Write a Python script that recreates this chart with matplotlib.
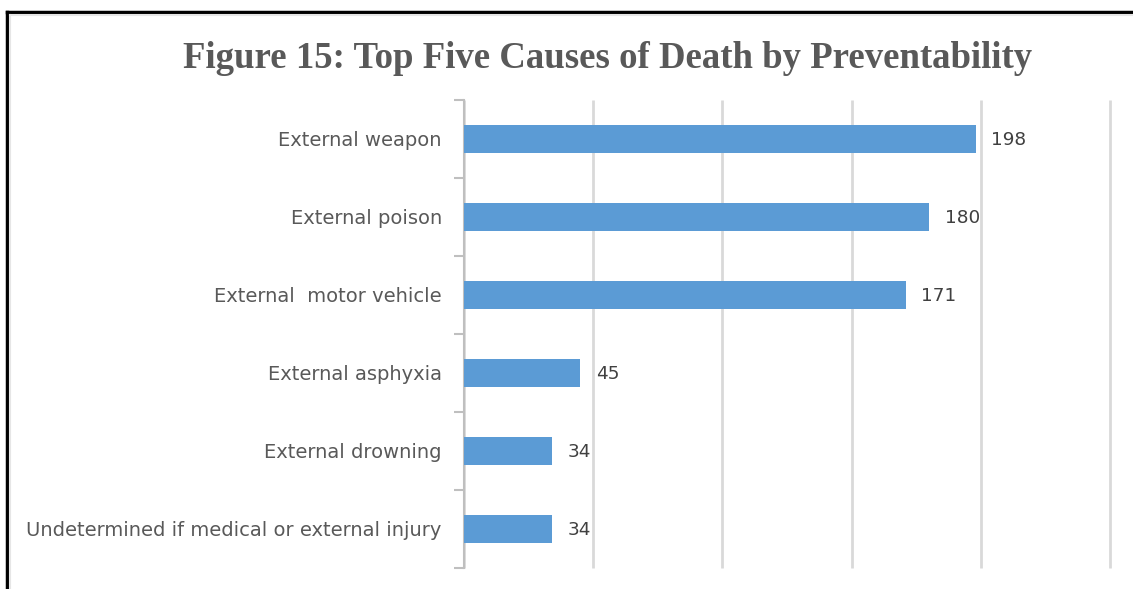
import matplotlib
matplotlib.use("Agg")
import matplotlib.pyplot as plt
from matplotlib.lines import Line2D
import numpy as np

title = "Figure 15: Top Five Causes of Death by Preventability"
categories = [
    "External weapon",
    "External poison",
    "External  motor vehicle",
    "External asphyxia",
    "External drowning",
    "Undetermined if medical or external injury",
]
values = [198, 180, 171, 45, 34, 34]
xticks = [0, 50, 100, 150, 200, 250]

W, H = 1133, 589
fig = plt.figure(figsize=(W / 100, H / 100), dpi=100)
ax = fig.add_axes([464 / W, 1 - 568 / H, (1110 - 464) / W, (568 - 100) / H])

y = np.arange(len(categories))
ax.barh(y, values, height=0.37, color="#5B9BD5", zorder=3)
ax.set_ylim(len(categories) - 0.5, -0.5)
ax.set_xlim(0, 250)

ax.set_xticks(xticks)
ax.tick_params(axis="x", length=0, labelbottom=False)
ax.grid(axis="x", color="#D9D9D9", lw=2, zorder=0)
for gl in ax.get_xgridlines():
    gl.set_clip_on(False)
    gl.set_solid_capstyle("butt")

ax.set_yticks(y)
ax.set_yticklabels(categories, fontsize=14, color="#595959", family="DejaVu Sans")
ax.tick_params(axis="y", which="major", length=0, pad=16)
ax.set_yticks(np.arange(len(categories) + 1) - 0.5, minor=True)
ax.tick_params(axis="y", which="minor", length=7, width=1.5, color="#BFBFBF")

for s in ["top", "right", "bottom"]:
    ax.spines[s].set_visible(False)
ax.spines["left"].set_color("#BFBFBF")
ax.spines["left"].set_linewidth(1.5)

for yi, v in zip(y, values):
    ax.text(v + 6, yi + 0.01, str(v), va="center", ha="left", fontsize=13.3,
            color="#404040", family="DejaVu Sans")

fig.text(608 / W, 1 - 58 / H, title, ha="center", va="center",
         fontsize=26.5, fontweight="bold", family="Liberation Serif", color="#595959")

# outer border (black) with faint inner line
fig.add_artist(Line2D([7 / W, 7 / W], [0, 1 - 12 / H], transform=fig.transFigure,
                      color="black", lw=2.5))
fig.add_artist(Line2D([7 / W, 1], [1 - 12 / H, 1 - 12 / H], transform=fig.transFigure,
                      color="black", lw=2.5))
fig.add_artist(Line2D([10 / W, 10 / W], [0, 1 - 15 / H], transform=fig.transFigure,
                      color="#E6E6E6", lw=1.5))
fig.add_artist(Line2D([10 / W, 1], [1 - 15 / H, 1 - 15 / H], transform=fig.transFigure,
                      color="#E6E6E6", lw=1.5))

fig.savefig("out.png", dpi=100)
